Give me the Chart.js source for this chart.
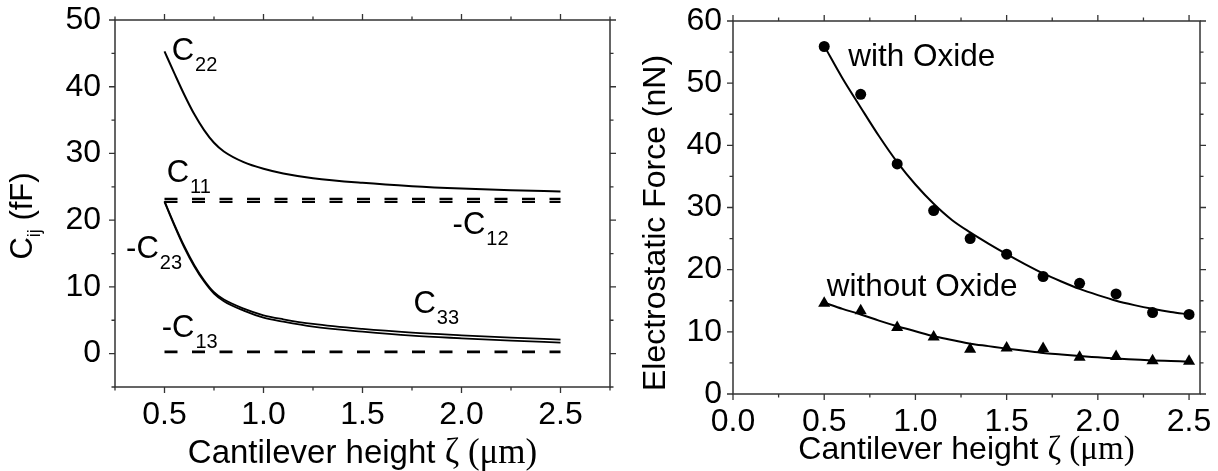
<!DOCTYPE html>
<html>
<head>
<meta charset="utf-8">
<script src="https://cdn.jsdelivr.net/npm/chart.js@4.4.1/dist/chart.umd.min.js"></script>
<style>
  html, body { margin: 0; padding: 0; background: #fff; }
  #wrap { position: relative; width: 1218px; height: 471px; overflow: hidden; }
  .panel { position: absolute; top: 0; }
</style>
</head>
<body>
<div id="wrap">
  <canvas id="capChart" class="panel" style="left:0" width="620" height="471"></canvas>
  <canvas id="forceChart" class="panel" style="left:620px" width="598" height="471"></canvas>
</div>
<script>
// ---- left panel: capacitance coefficients (fF) vs cantilever height (um)
const zeta   = [0.5, 0.55, 0.6, 0.65, 0.7, 0.75, 0.8, 0.9, 1.0, 1.1, 1.25, 1.5, 1.75, 2.0, 2.25, 2.5];
const c22    = [45.3, 42.0, 38.8, 35.9, 33.5, 31.6, 30.3, 28.7, 27.7, 27.0, 26.3, 25.6, 25.1, 24.75, 24.5, 24.3];
const c33    = [22.85, 19.35, 16.1, 13.3, 11.0, 9.2, 8.1, 6.75, 5.75, 5.15, 4.45, 3.7, 3.15, 2.75, 2.4, 2.1];
const mC23   = [22.75, 19.2, 15.9, 13.1, 10.8, 9.0, 7.85, 6.45, 5.4, 4.8, 4.05, 3.3, 2.7, 2.3, 1.95, 1.65];
const flatZeta = [0.5, 2.5];
const c11    = [23.2, 23.2];
const mC12   = [22.75, 22.75];
const mC13   = [0.25, 0.25];

const capXTicks = [0.5, 1.0, 1.5, 2.0, 2.5];
const capXMinor = [0.25, 0.75, 1.25, 1.75, 2.25, 2.75];
const capYTicks = [0, 10, 20, 30, 40, 50];
const capYMinor = [-5, 5, 15, 25, 35, 45];

// ---- right panel: electrostatic force (nN), measured points and fitted curves
const measZeta     = [0.5, 0.7, 0.9, 1.1, 1.3, 1.5, 1.7, 1.9, 2.1, 2.3, 2.5];
const withOxide    = [55.9, 48.2, 37.0, 29.5, 25.0, 22.5, 18.9, 17.8, 16.1, 13.1, 12.8];
const withoutOxide = [14.6, 13.4, 10.7, 9.15, 7.2, 7.4, 7.3, 5.9, 6.05, 5.35, 5.25];
const fitZeta      = [0.5, 0.6, 0.7, 0.8, 0.9, 1.0, 1.1, 1.2, 1.3, 1.4, 1.5, 1.6, 1.7, 1.8, 1.9, 2.0, 2.1, 2.2, 2.3, 2.4, 2.5];
const fitWith      = [56.0, 50.8, 46.1, 41.5, 37.3, 33.7, 30.6, 28.0, 26.0, 24.2, 22.5, 20.9, 19.4, 18.1, 16.9, 15.9, 15.0, 14.3, 13.7, 13.2, 12.8];
const fitWithout   = [14.7, 13.7, 12.8, 11.8, 10.9, 10.1, 9.3, 8.7, 8.1, 7.7, 7.3, 6.95, 6.6, 6.35, 6.1, 5.9, 5.7, 5.55, 5.4, 5.3, 5.2];

const forceXTicks = [0.0, 0.5, 1.0, 1.5, 2.0, 2.5];
const forceXMinor = [0.25, 0.75, 1.25, 1.75, 2.25];
const forceYTicks = [0, 10, 20, 30, 40, 50, 60];
const forceYMinor = [5, 15, 25, 35, 45, 55];

const SANS = '"Liberation Sans", Arial, sans-serif';
const SERIF = '"Liberation Serif", "Times New Roman", serif';

function pts(xs, ys) {
    return xs.map((x, i) => ({ x: x, y: ys[i] }));
}

// frame box plus outward major/minor ticks on all four sides
const frameTicks = {
    id: 'frameTicks',
    afterDraw(chart, args, opts) {
        const { ctx, chartArea: a, scales: { x, y } } = chart;
        ctx.save();
        ctx.strokeStyle = '#333';
        ctx.lineWidth = 1.5;
        ctx.strokeRect(a.left, a.top, a.right - a.left, a.bottom - a.top);
        ctx.lineWidth = 1.3;
        const tickSet = (vals, len) => {
            vals.forEach(v => {
                const px = x.getPixelForValue(v);
                ctx.beginPath();
                ctx.moveTo(px, a.bottom); ctx.lineTo(px, a.bottom + len);
                ctx.moveTo(px, a.top); ctx.lineTo(px, a.top - len);
                ctx.stroke();
            });
        };
        const tickSetY = (vals, len) => {
            vals.forEach(v => {
                const py = y.getPixelForValue(v);
                ctx.beginPath();
                ctx.moveTo(a.left, py); ctx.lineTo(a.left - len, py);
                ctx.moveTo(a.right, py); ctx.lineTo(a.right + len, py);
                ctx.stroke();
            });
        };
        tickSet(opts.xMajor, 6);
        tickSet(opts.xMinor, 3.5);
        tickSetY(opts.yMajor, 6);
        tickSetY(opts.yMinor, 3.5);
        ctx.restore();
    }
};

// axis titles (mixed sans / serif runs) and in-plot curve labels
const textLayer = {
    id: 'textLayer',
    afterDraw(chart, args, opts) {
        const { ctx, chartArea: a, scales: { x, y } } = chart;
        ctx.save();
        ctx.fillStyle = '#000';
        ctx.textBaseline = 'alphabetic';
        ctx.textAlign = 'left';

        const runWidth = runs => runs.reduce((w, r) => {
            ctx.font = r.font;
            return w + ctx.measureText(r.t).width;
        }, 0);
        const drawRuns = (runs, x0, y0) => {
            let cx = x0;
            runs.forEach(r => {
                ctx.font = r.font;
                ctx.fillText(r.t, cx, y0 + (r.drop || 0));
                cx += ctx.measureText(r.t).width;
            });
        };

        // x title
        const xt = opts.xTitle;
        const xw = runWidth(xt.runs);
        drawRuns(xt.runs, (a.left + a.right) / 2 - xw / 2, xt.baseline);

        // y title, rotated
        const yt = opts.yTitle;
        const yw = runWidth(yt.runs);
        ctx.save();
        ctx.translate(yt.baseline, yt.center);
        ctx.rotate(-Math.PI / 2);
        drawRuns(yt.runs, -yw / 2, 0);
        ctx.restore();

        // curve labels at data positions
        (opts.labels || []).forEach(l => {
            const px = x.getPixelForValue(l.at[0]);
            const py = y.getPixelForValue(l.at[1]);
            ctx.font = opts.labelFont;
            ctx.fillText(l.text, px, py);
            if (l.sub) {
                const w = ctx.measureText(l.text).width;
                ctx.font = opts.subFont;
                ctx.fillText(l.sub, px + w + 1, py + 11);
            }
        });
        ctx.restore();
    }
};

function axisX(min, max, ticks, height, pad) {
    return {
        type: 'linear', min: min, max: max,
        afterBuildTicks: s => { s.ticks = ticks.map(v => ({ value: v })); },
        afterFit: s => { s.height = height; s.paddingLeft = 0; s.paddingRight = 0; },
        grid: { display: false, drawTicks: false },
        border: { display: false },
        ticks: {
            autoSkip: false, maxRotation: 0, padding: pad, color: '#000',
            font: { family: SANS, size: 32 },
            callback: v => Number(v).toFixed(1)
        }
    };
}

function axisY(min, max, ticks, width, pad) {
    return {
        type: 'linear', min: min, max: max,
        afterBuildTicks: s => { s.ticks = ticks.map(v => ({ value: v })); },
        afterFit: s => { s.width = width; s.paddingTop = 0; s.paddingBottom = 0; },
        grid: { display: false, drawTicks: false },
        border: { display: false },
        ticks: {
            autoSkip: false, padding: pad, color: '#000',
            font: { family: SANS, size: 32 },
            callback: v => String(v)
        }
    };
}

const lineStyle = {
    showLine: true, pointRadius: 0, borderColor: '#000', fill: false,
    cubicInterpolationMode: 'monotone'
};

new Chart(document.getElementById('capChart'), {
    type: 'scatter',
    data: {
        datasets: [
            Object.assign({ label: 'C22', data: pts(zeta, c22), borderWidth: 2 }, lineStyle),
            Object.assign({ label: 'C33', data: pts(zeta, c33), borderWidth: 1.8 }, lineStyle),
            Object.assign({ label: '-C23', data: pts(zeta, mC23), borderWidth: 1.8 }, lineStyle),
            Object.assign({ label: 'C11', data: pts(flatZeta, c11), borderWidth: 2.2, borderDash: [13, 14.5] }, lineStyle),
            Object.assign({ label: '-C12', data: pts(flatZeta, mC12), borderWidth: 2.2, borderDash: [13, 14.5] }, lineStyle),
            Object.assign({ label: '-C13', data: pts(flatZeta, mC13), borderWidth: 2.8, borderDash: [13, 14.5] }, lineStyle)
        ]
    },
    options: {
        responsive: false,
        animation: false,
        layout: { padding: { left: 0, right: 10, top: 20, bottom: 0 } },
        scales: {
            x: axisX(0.25, 2.75, capXTicks, 84, 9),
            y: axisY(-5, 50, capYTicks, 115, 14)
        },
        plugins: {
            legend: { display: false },
            tooltip: { enabled: false },
            frameTicks: { xMajor: capXTicks, xMinor: capXMinor, yMajor: capYTicks, yMinor: capYMinor },
            textLayer: {
                xTitle: {
                    baseline: 463,
                    runs: [
                        { t: 'Cantilever height ', font: '33px ' + SANS },
                        { t: '\u03B6 (\u03BCm)', font: '35px ' + SERIF }
                    ]
                },
                yTitle: {
                    baseline: 32, center: 216,
                    runs: [
                        { t: 'C', font: '31px ' + SANS },
                        { t: 'ij', font: '18px ' + SANS, drop: 8 },
                        { t: ' (fF)', font: '31px ' + SANS }
                    ]
                },
                labelFont: '31px ' + SANS,
                subFont: '20px ' + SANS,
                labels: [
                    { text: 'C', sub: '22', at: [0.536, 44.0] },
                    { text: 'C', sub: '11', at: [0.511, 25.75] },
                    { text: '-C', sub: '12', at: [1.955, 18.0] },
                    { text: '-C', sub: '23', at: [0.306, 14.27] },
                    { text: 'C', sub: '33', at: [1.757, 6.03] },
                    { text: '-C', sub: '13', at: [0.486, 2.5] }
                ]
            }
        }
    },
    plugins: [frameTicks, textLayer]
});

new Chart(document.getElementById('forceChart'), {
    type: 'scatter',
    data: {
        datasets: [
            Object.assign({ label: 'with Oxide fit', data: pts(fitZeta, fitWith), borderWidth: 2 }, lineStyle),
            Object.assign({ label: 'without Oxide fit', data: pts(fitZeta, fitWithout), borderWidth: 2 }, lineStyle),
            {
                label: 'with Oxide', data: pts(measZeta, withOxide),
                pointStyle: 'circle', pointRadius: 5.5, backgroundColor: '#000', borderWidth: 0
            },
            {
                label: 'without Oxide', data: pts(measZeta, withoutOxide),
                pointStyle: 'triangle', pointRadius: 7, backgroundColor: '#000', borderWidth: 0
            }
        ]
    },
    options: {
        responsive: false,
        animation: false,
        layout: { padding: { left: 0, right: 18, top: 21, bottom: 0 } },
        scales: {
            x: axisX(0, 2.56, forceXTicks, 77, 9),
            y: axisY(0, 60, forceYTicks, 113, 11)
        },
        plugins: {
            legend: { display: false },
            tooltip: { enabled: false },
            frameTicks: { xMajor: forceXTicks, xMinor: forceXMinor, yMajor: forceYTicks, yMinor: forceYMinor },
            textLayer: {
                xTitle: {
                    baseline: 459,
                    runs: [
                        { t: 'Cantilever height ', font: '32px ' + SANS },
                        { t: '\u03B6 (\u03BCm)', font: '33px ' + SERIF }
                    ]
                },
                yTitle: {
                    baseline: 45, center: 223,
                    runs: [{ t: 'Electrostatic Force (nN)', font: '32px ' + SANS }]
                },
                labelFont: '31.5px ' + SANS,
                subFont: '20px ' + SANS,
                labels: [
                    { text: 'with Oxide', at: [0.632, 52.7] },
                    { text: 'without Oxide', at: [0.514, 15.7] }
                ]
            }
        }
    },
    plugins: [frameTicks, textLayer]
});
</script>
</body>
</html>
